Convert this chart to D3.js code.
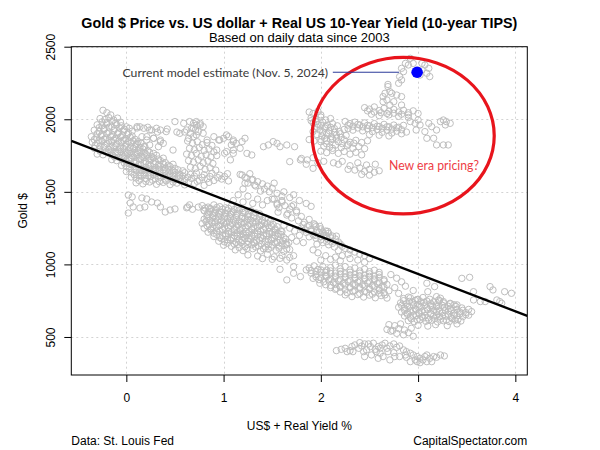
<!DOCTYPE html>
<html><head><meta charset="utf-8">
<script src="https://cdn.jsdelivr.net/npm/d3@7"></script>
<style>body{margin:0;background:#fff}</style>
</head><body><svg id="c" width="600" height="450"></svg>
<script>
// ---------------- DATA ----------------
const titleText = "Gold $ Price vs. US dollar + Real US 10-Year Yield (10-year TIPS)";
const subtitleText = "Based on daily data since 2003";
const xLabel = "US$ + Real Yield %";
const yLabel = "Gold $";
const xTicks = [0, 1, 2, 3, 4];
const yTicks = [500, 1000, 1500, 2000, 2500];
const xDomain = [-0.566, 4.123];
const yDomain = [238, 2500];
const fitIntercept = 1706;
const fitSlope = -257.4;
const currentPoint = [2.99, 2324];
const currentLabel = "Current model estimate (Nov. 5, 2024)";
const eraLabel = "New era pricing?";

const lowBand = [[2.16,406],[2.25,422],[2.27,399],[2.32,434],[2.35,445],[2.39,422],[2.42,438],[2.45,452],[2.47,411],[2.51,434],[2.54,457],[2.56,415],[2.59,434],[2.63,445],[2.66,457],[2.68,422],[2.71,438],[2.75,452],[2.78,429],[2.81,438],[2.85,411],[2.88,399],[2.92,388],[2.95,376],[2.99,365],[3.02,353],[3.05,342],[3.09,330],[3.12,353],[3.16,365],[3.19,360],[3.23,376],[3.27,369],[2.45,365],[2.52,376],[2.59,353],[2.64,365],[2.71,342],[2.81,365],[2.92,330],[3.02,323],[2.61,388],[2.75,392],[2.30,406],[2.44,399],[2.49,452],[2.57,399],[2.69,399],[2.76,365],[2.87,376],[2.97,342],[3.07,365],[3.14,330],[2.21,415],[2.33,399],[2.40,461],[2.61,422],[2.88,360],[2.99,330],[3.09,376]];

const blob700 = [[2.85,765],[2.92,770],[2.99,758],[3.05,772],[3.12,760],[2.82,735],[2.88,728],[2.94,740],[3.0,725],[3.06,738],[3.13,730],[3.19,722],[3.26,735],[3.33,728],[2.8,705],[2.86,698],[2.91,710],[2.97,695],[3.03,708],[3.09,700],[3.15,712],[3.21,697],[3.27,705],[3.33,698],[3.39,710],[3.45,700],[2.83,672],[2.89,665],[2.95,678],[3.01,668],[3.07,675],[3.13,662],[3.19,674],[3.25,666],[3.31,678],[3.37,664],[3.43,672],[3.49,668],[3.55,675],[2.86,645],[2.92,636],[2.98,648],[3.04,640],[3.1,632],[3.16,646],[3.22,638],[3.28,644],[3.34,634],[3.4,646],[3.46,640],[3.52,650],[2.9,612],[2.96,605],[3.02,618],[3.08,608],[3.14,615],[3.2,604],[3.26,612],[3.32,606],[3.38,616],[3.44,610],[2.7,585],[2.76,578],[2.82,590],[3.0,580],[3.1,575],[3.18,585],[3.3,578],[3.4,590],[2.68,552],[2.74,545],[2.8,558],[2.86,548],[2.93,560],[2.72,540],[2.78,525],[2.85,515],[2.9,530],[2.95,505],
[2.85,750],[2.91,745],[2.97,752],[3.03,742],[3.09,748],[3.16,742],[3.22,750],[2.83,718],[2.89,712],[2.95,722],[3.01,710],[3.07,720],[3.13,714],[3.19,708],[3.25,718],[3.31,712],[3.37,722],[2.86,685],[2.92,680],[2.98,690],[3.04,678],[3.1,688],[3.16,682],[3.22,676],[3.28,686],[3.34,680],[3.4,690],[3.46,684],[3.52,690],[2.89,656],[2.95,650],[3.01,660],[3.07,648],[3.13,658],[3.19,652],[3.25,646],[3.31,656],[3.37,650],[3.43,660],[3.49,654],[2.93,625],[2.99,620],[3.05,630],[3.11,618],[3.17,628],[3.23,622],[3.29,616],[3.35,626],[3.41,620]];

const band900 = [[1.58,966],[1.72,985],[1.85,962],[2.06,916],[2.16,835],[1.65,893],[1.79,916],[1.92,904],[1.99,870],[1.72,939],[1.88,975],[1.93,990],[1.97,965],[2.02,985],[2.06,960],[2.1,978],[2.15,995],[2.2,970],[2.25,985],[2.3,962],[2.35,975],[2.4,955],[2.45,968],[2.5,950],[2.55,960],[2.6,945],[1.9,940],[1.95,930],[2.0,945],[2.05,925],[2.1,938],[2.15,920],[2.2,935],[2.25,915],[2.3,928],[2.35,910],[2.4,922],[2.45,905],[2.5,918],[2.55,900],[2.6,912],[2.65,895],[1.98,895],[2.03,880],[2.08,892],[2.13,875],[2.18,888],[2.23,870],[2.28,882],[2.33,865],[2.38,878],[2.43,860],[2.48,872],[2.53,855],[2.58,868],[2.63,850],[2.68,862],[2.1,840],[2.15,828],[2.2,842],[2.25,825],[2.3,838],[2.35,820],[2.4,832],[2.45,815],[2.5,828],[2.55,810],[2.6,822],[2.65,805],[2.7,818],[2.25,790],[2.32,778],[2.38,792],[2.44,775],[2.5,788],[2.56,770],[2.62,785],[2.68,768],[2.72,930],[2.78,905],[2.83,880],[2.87,850],[2.95,820],[2.8,800],[2.9,775],[2.76,840],[3.0,760],
[1.9,958],[1.95,950],[2.0,962],[2.05,945],[2.1,955],[2.15,940],[2.2,952],[2.25,935],[2.3,946],[2.35,930],[2.4,940],[2.45,925],[2.5,935],[2.55,920],[2.6,930],[1.95,915],[2.0,908],[2.05,918],[2.1,902],[2.15,912],[2.2,898],[2.25,908],[2.3,892],[2.35,902],[2.4,888],[2.45,898],[2.5,884],[2.55,892],[2.6,878],[2.65,886],[2.05,860],[2.1,855],[2.15,862],[2.2,850],[2.25,858],[2.3,845],[2.35,855],[2.4,842],[2.45,850],[2.5,838],[2.55,846],[2.6,834],[2.65,842],[2.2,810],[2.27,805],[2.33,812],[2.4,800],[2.47,808],[2.53,795],[2.6,802],[2.66,790]];

const rightTail = [[3.09,870],[3.17,847],[3.23,767],[3.4,721],[3.45,904],[3.53,911],[3.57,812],[3.64,744],[3.74,847],[3.77,824],[3.84,744],[3.89,812],[3.96,801],[3.1,812],[3.19,778],[3.21,755],[3.26,744],[3.33,732],[3.57,755],[3.69,744],[3.81,755],[3.86,732]];

const midLine = [[1.5,1450],[1.55,1420],[1.6,1440],[1.57,1390],[1.63,1405],[1.68,1380],[1.72,1410],[1.66,1350],[1.75,1360],[1.8,1330],[1.7,1320],[1.77,1300],[1.83,1290],[1.88,1310],[1.93,1280],[1.86,1260],[1.8,1250],[1.9,1240],[1.95,1260],[2.0,1245],[2.05,1230],[1.98,1220],[2.03,1200],[2.08,1215],[2.12,1195],[1.92,1205],[1.85,1220],[1.95,1180],[2.0,1170],[2.06,1180],[2.1,1160],[2.15,1175],[2.02,1150],[1.96,1140],[2.08,1135],[2.14,1120],[2.2,1140],[2.25,1110],[2.18,1095],[2.3,1100],[2.35,1085],[2.28,1070],[2.4,1070],[2.45,1060],[2.22,1060],[2.15,1050],[2.05,1060],[2.1,1035],[2.0,1030],[2.2,1025],[2.3,1040],[2.38,1030],[2.45,1015],[2.5,1040],[1.92,1100],[1.97,1080],[1.62,1270],[1.68,1250],[1.73,1230],[1.78,1200],[1.6,1225],[1.7,1185],[1.75,1160],[1.82,1150],[1.65,1140],
[1.82,1275],[1.88,1268],[1.94,1272],[1.99,1262],[1.84,1238],[1.9,1228],[1.96,1232],[2.02,1222],[2.07,1228],[1.88,1190],[1.94,1200],[2.0,1192],[2.05,1200],[2.1,1185],[2.16,1195],[2.06,1158],[2.12,1145],[2.18,1155],[2.22,1125]];

const bigBlob = [[0.78,1405],[0.84,1395],[0.9,1410],[0.96,1398],[1.02,1390],[1.08,1402],[1.14,1385],[0.8,1372],[0.86,1365],[0.92,1378],[0.98,1360],[1.04,1372],[1.1,1362],[1.16,1375],[1.22,1360],[1.28,1370],[0.83,1342],[0.89,1335],[0.95,1348],[1.01,1332],[1.07,1345],[1.13,1338],[1.19,1330],[1.25,1344],[1.31,1335],[1.37,1348],[0.8,1312],[0.86,1305],[0.92,1318],[0.98,1302],[1.04,1315],[1.1,1308],[1.16,1300],[1.22,1314],[1.28,1305],[1.34,1318],[1.4,1302],[1.46,1312],[0.78,1282],[0.85,1275],[0.91,1288],[0.97,1272],[1.03,1285],[1.09,1278],[1.15,1270],[1.21,1284],[1.27,1276],[1.33,1288],[1.39,1272],[1.45,1282],[1.51,1275],[0.8,1250],[0.87,1245],[0.93,1258],[0.99,1242],[1.05,1255],[1.11,1248],[1.17,1240],[1.23,1254],[1.29,1246],[1.35,1258],[1.41,1242],[1.47,1252],[1.53,1245],[0.84,1222],[0.9,1215],[0.96,1228],[1.02,1212],[1.08,1225],[1.14,1218],[1.2,1210],[1.26,1224],[1.32,1216],[1.38,1228],[1.44,1212],[1.5,1222],[1.56,1215],[0.9,1192],[0.96,1185],[1.02,1198],[1.08,1182],[1.14,1195],[1.2,1188],[1.26,1180],[1.32,1194],[1.38,1186],[1.44,1198],[1.5,1182],[1.56,1192],[1.62,1185],[0.95,1160],[1.01,1155],[1.07,1168],[1.13,1152],[1.19,1165],[1.25,1158],[1.31,1150],[1.37,1164],[1.43,1156],[1.49,1168],[1.55,1152],[1.61,1162],[1.0,1132],[1.08,1125],[1.15,1138],[1.22,1122],[1.29,1135],[1.36,1128],[1.43,1120],[1.5,1134],[1.57,1126],[1.64,1138],[1.12,1100],[1.2,1095],[1.3,1108],[1.38,1092],[1.46,1105],[1.54,1098],[1.62,1090],[1.68,1102],[1.25,1065],[1.35,1058],[1.45,1070],[1.52,1052],[1.6,1062],[1.68,1048],[1.72,1060],[1.4,1040],[1.5,1035],[1.58,1042],[1.65,1030],
[0.81,1388],[0.87,1382],[0.93,1392],[0.99,1380],[1.05,1386],[1.11,1378],[1.19,1384],[0.84,1356],[0.9,1350],[0.96,1360],[1.02,1348],[1.08,1356],[1.14,1350],[1.2,1358],[1.26,1352],[1.33,1356],[0.83,1326],[0.89,1320],[0.95,1330],[1.01,1318],[1.07,1328],[1.13,1322],[1.19,1316],[1.25,1328],[1.31,1320],[1.37,1330],[1.43,1322],[0.82,1296],[0.88,1290],[0.94,1300],[1.0,1288],[1.06,1298],[1.12,1292],[1.18,1286],[1.24,1298],[1.3,1290],[1.36,1300],[1.42,1288],[1.48,1296],[0.83,1266],[0.89,1260],[0.95,1270],[1.01,1258],[1.07,1268],[1.13,1262],[1.19,1256],[1.25,1268],[1.31,1260],[1.37,1270],[1.43,1258],[1.49,1266],[1.55,1260],[0.87,1236],[0.93,1230],[0.99,1240],[1.05,1228],[1.11,1238],[1.17,1232],[1.23,1226],[1.29,1238],[1.35,1230],[1.41,1240],[1.47,1228],[1.53,1236],[1.59,1230],[0.93,1206],[0.99,1200],[1.05,1210],[1.11,1198],[1.17,1208],[1.23,1202],[1.29,1196],[1.35,1208],[1.41,1200],[1.47,1210],[1.53,1198],[1.59,1206],[0.98,1176],[1.04,1170],[1.1,1180],[1.16,1168],[1.22,1178],[1.28,1172],[1.34,1166],[1.4,1178],[1.46,1170],[1.52,1180],[1.58,1168],[1.64,1174],[1.04,1146],[1.11,1140],[1.18,1150],[1.25,1138],[1.32,1148],[1.39,1142],[1.46,1136],[1.53,1148],[1.6,1140],[1.67,1150],[1.16,1116],[1.24,1110],[1.33,1120],[1.41,1108],[1.49,1118],[1.57,1112],[1.65,1106]];

const upperMid = [[1.17,1620],[1.22,1600],[1.27,1625],[1.3,1585],[1.35,1570],[1.4,1555],[1.45,1540],[1.5,1525],[1.42,1520],[1.47,1500],[1.38,1505],[1.52,1560],[1.33,1540],[1.25,1560],[1.55,1490],[1.6,1470],[1.2,1520],[1.15,1480],[1.25,1470],[1.35,1450],[1.45,1440],[1.3,1420],[1.4,1410],[1.2,1430],[1.1,1440],[1.55,1410],[1.62,1500],[1.68,1460],[1.72,1480],[1.78,1440],[1.85,1420],[1.9,1400],[1.19,1616],[1.24,1593],[1.29,1582],[1.22,1559],[1.32,1547],[1.52,1450],[1.6,1430],[1.7,1400],[1.56,1360],[1.65,1340],[1.75,1370]];

const leftBand = [[-0.24,2062],[-0.2,2045],[-0.16,2030],[-0.27,2005],[-0.22,1998],[-0.18,2012],[-0.13,1995],[-0.09,2008],[-0.3,1962],[-0.25,1955],[-0.2,1968],[-0.15,1950],[-0.1,1962],[-0.05,1955],[0.0,1948],[-0.33,1925],[-0.28,1915],[-0.23,1928],[-0.18,1912],[-0.13,1922],[-0.08,1910],[-0.03,1920],[0.02,1905],[0.06,1918],[-0.36,1880],[-0.31,1872],[-0.26,1885],[-0.21,1870],[-0.16,1880],[-0.11,1868],[-0.06,1878],[-0.01,1865],[0.04,1875],[0.09,1862],[-0.35,1842],[-0.3,1835],[-0.25,1848],[-0.2,1832],[-0.15,1845],[-0.1,1830],[-0.05,1840],[0.0,1828],[0.05,1838],[0.1,1825],[0.15,1835],[-0.33,1800],[-0.28,1795],[-0.23,1808],[-0.18,1792],[-0.13,1805],[-0.08,1790],[-0.03,1800],[0.02,1788],[0.07,1798],[0.12,1785],[0.17,1795],[0.22,1782],[-0.3,1760],[-0.24,1755],[-0.19,1768],[-0.14,1752],[-0.09,1765],[-0.04,1750],[0.01,1762],[0.06,1748],[0.11,1758],[0.16,1745],[0.21,1755],[0.26,1742],[0.31,1752],[-0.15,1722],[-0.1,1715],[-0.05,1728],[0.0,1712],[0.05,1725],[0.1,1710],[0.15,1720],[0.2,1708],[0.25,1718],[0.3,1705],[0.35,1715],[0.4,1702],[-0.05,1682],[0.0,1675],[0.05,1688],[0.1,1672],[0.15,1685],[0.2,1670],[0.25,1680],[0.3,1668],[0.35,1678],[0.4,1665],[0.45,1675],[0.5,1662],[0.0,1640],[0.05,1635],[0.1,1648],[0.15,1632],[0.2,1645],[0.25,1630],[0.3,1642],[0.35,1628],[0.4,1638],[0.45,1625],[0.5,1635],[0.55,1622],[0.6,1632],[0.66,1620],[0.72,1630],[0.8,1618],[0.88,1628],[0.96,1615],[1.04,1625],[0.05,1602],[0.1,1595],[0.15,1608],[0.2,1592],[0.25,1605],[0.3,1590],[0.35,1600],[0.4,1588],[0.45,1598],[0.5,1585],[0.55,1595],[0.6,1582],[0.67,1592],[0.75,1580],[0.83,1590],[0.9,1578],[0.98,1588],[1.05,1575],[0.1,1562],[0.17,1555],[0.24,1568],[0.31,1552],[0.38,1565],[0.45,1550],[0.52,1560],[0.6,1548],[0.7,1558],[0.8,1545],
[-0.25,1982],[-0.2,1978],[-0.15,1985],[-0.11,1975],[-0.06,1980],[-0.28,1942],[-0.23,1938],[-0.18,1945],[-0.12,1935],[-0.07,1942],[-0.02,1932],[0.03,1938],[-0.3,1900],[-0.25,1895],[-0.2,1902],[-0.14,1892],[-0.09,1898],[-0.04,1888],[0.01,1895],[0.06,1885],[-0.33,1860],[-0.28,1855],[-0.23,1862],[-0.18,1852],[-0.13,1858],[-0.08,1848],[-0.03,1855],[0.02,1845],[0.07,1852],[0.12,1845],[-0.32,1820],[-0.27,1815],[-0.22,1822],[-0.16,1812],[-0.11,1818],[-0.06,1808],[-0.01,1815],[0.04,1805],[0.09,1812],[0.14,1805],[0.19,1812],[-0.27,1780],[-0.21,1775],[-0.16,1782],[-0.11,1772],[-0.06,1778],[-0.01,1770],[0.04,1776],[0.09,1768],[0.14,1775],[0.19,1766],[0.24,1772],[0.28,1765],[-0.12,1740],[-0.07,1735],[-0.02,1742],[0.03,1732],[0.08,1738],[0.13,1730],[0.18,1736],[0.23,1728],[0.28,1734],[0.33,1726],[0.38,1732],[-0.02,1698],[0.03,1692],[0.08,1700],[0.13,1690],[0.18,1696],[0.23,1688],[0.28,1694],[0.33,1686],[0.38,1692],[0.43,1684],[0.48,1690],[0.03,1660],[0.08,1655],[0.13,1662],[0.18,1652],[0.23,1658],[0.28,1650],[0.33,1656],[0.38,1648],[0.43,1655],[0.48,1645],[0.53,1652],[0.58,1645],[0.08,1618],[0.13,1612],[0.18,1620],[0.23,1610],[0.28,1616],[0.33,1608],[0.38,1614],[0.43,1606],[0.48,1612],[0.53,1604],[0.58,1610],[0.63,1602],[0.7,1608],[0.78,1600],[0.86,1606],[0.94,1598],[1.01,1605],[0.13,1578],[0.2,1572],[0.27,1580],[0.34,1570],[0.41,1576],[0.48,1568],[0.56,1574],[0.64,1566],[0.73,1572],[0.85,1565]];

const leftScatter = [[0.02,1478],[0.06,1465],[0.04,1423],[0.07,1396],[0.02,1354],[0.16,1458],[0.21,1451],[0.26,1430],[0.32,1423],[0.35,1396],[0.4,1361],[0.45,1375],[0.5,1382],[0.19,1396],[0.14,1389],[0.63,1396],[0.65,1410],[0.62,1390],[0.68,1380],[0.74,1395],[0.8,1370],[0.86,1385],[0.91,1360],[0.11,1940],[0.14,1948],[0.22,1945],[0.26,1926],[0.32,1912],[0.35,1926],[0.42,1933],[0.52,1912],[0.6,1912],[0.16,1880],[0.21,1857],[0.28,1869],[0.35,1846],[0.24,1823],[0.33,1811],[0.38,1834],[0.69,1972],[0.72,1960],[0.76,1972],[0.67,1938],[0.71,1926],[0.74,1915],[0.66,1903],[0.69,1880],[0.72,1892],[0.79,1949],[0.64,1869],[0.63,1850],[0.68,1835],[0.73,1845],[0.78,1825],[0.83,1840],[0.88,1820],[0.65,1800],[0.7,1790],[0.75,1805],[0.8,1785],[0.85,1795],[0.9,1775],[0.62,1760],[0.67,1750],[0.72,1765],[0.77,1745],[0.82,1755],[0.87,1740],[0.93,1750],[0.64,1715],[0.69,1705],[0.74,1720],[0.79,1700],[0.84,1712],[0.89,1695],[0.66,1670],[0.71,1660],[0.76,1675],[0.81,1655],[0.86,1665],[0.92,1650],[0.5,1984],[0.59,1972],[0.65,1984],[0.72,1984],[0.76,1961],[0.69,1938],[0.62,1926],[0.55,1903],[0.79,1903],[0.83,1857],[0.11,1949],[0.18,1938],[0.24,1926],[0.31,1938],[0.41,1915],[0.21,1880],[0.28,1869],[0.35,1857],[0.11,1834],[0.18,1811],[0.48,1788]];

const midScatter = [[0.95,1857],[1.0,1869],[1.05,1880],[1.1,1857],[1.08,1823],[1.13,1834],[1.19,1846],[1.22,1869],[1.17,1800],[1.03,1777],[1.1,1765],[1.24,1765],[1.29,1754],[0.9,1880],[0.96,1857],[1.03,1892],[1.1,1846],[0.93,1788],[1.01,1766],[1.1,1788],[1.07,1720],[1.41,1811],[1.51,1846],[1.58,1811],[1.73,1811],[1.68,1708],[1.79,1720],[1.92,1662],[1.46,1823],[1.55,1834],[1.65,1823]];

const rightUpper = [[1.88,2050],[1.92,2040],[1.97,2055],[2.0,2030],[1.9,2010],[1.95,2000],[2.0,2015],[2.05,1995],[2.1,2005],[1.92,1975],[1.97,1965],[2.02,1980],[2.07,1960],[2.12,1970],[2.17,1955],[1.94,1935],[1.99,1925],[2.04,1940],[2.09,1920],[2.14,1935],[2.19,1915],[2.24,1930],[1.96,1895],[2.01,1885],[2.06,1900],[2.11,1880],[2.16,1892],[2.21,1875],[2.26,1888],[1.88,1860],[1.93,1850],[2.0,1845],[2.0,1860],[2.06,1850],[2.12,1865],[2.18,1845],[2.24,1858],[2.3,1842],[2.36,1855],[2.42,1840],[2.48,1852],[2.03,1815],[2.09,1808],[2.15,1822],[2.21,1805],[2.27,1818],[2.33,1800],[2.39,1812],[2.45,1798],[2.0,1780],[2.06,1770],[2.12,1785],[2.18,1765],[2.24,1778],[2.3,1760],[2.36,1772],[2.42,1755],[2.13,1700],[2.18,1690],[2.22,1710],[2.3,1680],[2.35,1650],[2.4,1665],[2.45,1640],[2.5,1655],[2.55,1635],[2.6,1645],[2.42,1620],[2.5,1615],[2.38,1700],[2.47,1685],[2.56,1690],[2.28,1655],[1.8,1730],[1.86,1720],[1.92,1735],[1.97,1700],[2.03,1710],[1.85,1690],
[1.9,1990],[1.95,1985],[2.0,1958],[2.05,1950],[2.1,1945],[1.96,1945],[2.02,1912],[2.08,1905],[2.14,1910],[2.2,1900],[1.92,1915],[2.04,1868],[2.1,1860],[2.16,1870],[2.22,1832],[2.28,1828],[2.34,1835],[2.06,1830],[2.12,1800]];

const rightBands = [[2.25,1985],[2.3,1970],[2.35,1980],[2.4,1960],[2.45,1975],[2.5,1955],[2.55,1970],[2.6,1950],[2.65,1965],[2.7,1948],[2.75,1960],[2.8,1945],[2.85,1958],[2.28,1935],[2.33,1925],[2.38,1940],[2.43,1920],[2.48,1935],[2.53,1915],[2.58,1930],[2.63,1910],[2.68,1925],[2.73,1905],[2.78,1918],[2.83,1900],[2.88,1912],[2.5,1895],[2.6,1890],[2.7,1885],[2.45,2080],[2.5,2070],[2.55,2085],[2.6,2060],[2.65,2075],[2.7,2055],[2.75,2068],[2.8,2050],[2.85,2062],[2.9,2045],[2.95,2058],[3.0,2040],[2.52,2035],[2.6,2025],[2.7,2030],[2.8,2020],[2.9,2012],[2.92,1984],[2.97,1972],[3.0,1995],[3.02,1961],[3.11,1972],[3.14,1949],[3.23,1984],[3.26,1995],[3.29,1984],[3.33,1972],[3.28,1961],[3.19,1926],[3.16,1869],[3.09,1869],[3.19,1823],[3.26,1823],[3.31,1823],[3.07,1915],[2.98,1926],
[2.28,1960],[2.33,1952],[2.38,1965],[2.43,1948],[2.48,1958],[2.53,1942],[2.58,1952],[2.63,1938],[2.68,1948],[2.73,1932],[2.78,1942],[2.83,1928],[2.48,2058],[2.55,2050],[2.62,2045],[2.68,2040],[2.75,2042],[2.83,2035],[2.9,2030]];

const topCluster = [[2.92,2420],[2.87,2385],[2.9,2374],[2.95,2385],[3.04,2385],[3.07,2374],[3.11,2351],[3.09,2317],[3.12,2294],[2.83,2351],[2.85,2328],[2.81,2294],[2.83,2271],[2.8,2248],[3.04,2340],[3.02,2305],[2.69,2225],[2.71,2190],[2.66,2179],[2.73,2179],[2.78,2167],[2.83,2156],[2.64,2156],[2.68,2133],[2.64,2121],[2.75,2121],[2.71,2098],[2.83,2098],[2.69,2240]];

// ---------------- DRAW ----------------
const svg = d3.select("#c");
const FONT = "'Liberation Sans', Arial, sans-serif";
const L = 71.3, R = 527.3, T = 46.7, B = 375;
const x = d3.scaleLinear().domain(xDomain).range([L, R]);
const y = d3.scaleLinear().domain(yDomain).range([B, T]);

svg.append("rect").attr("width",600).attr("height",450).attr("fill","#fff");

// grid
const grid = svg.append("g").attr("stroke","#d3d3d3").attr("stroke-width",1).attr("stroke-dasharray","2,3");
grid.selectAll("line.gx").data(xTicks).join("line").attr("class","gx")
  .attr("x1",d=>Math.round(x(d))+0.5).attr("x2",d=>Math.round(x(d))+0.5).attr("y1",T).attr("y2",B);
grid.selectAll("line.gy").data(yTicks).join("line").attr("class","gy")
  .attr("y1",d=>Math.round(y(d))+0.5).attr("y2",d=>Math.round(y(d))+0.5).attr("x1",L).attr("x2",R);

// points
const allPts = [].concat(lowBand, blob700, band900, rightTail, midLine, bigBlob, upperMid, leftBand, leftScatter, midScatter, rightUpper, rightBands, topCluster);
svg.append("g").selectAll("circle").data(allPts).join("circle")
  .attr("cx",d=>x(d[0])).attr("cy",d=>y(d[1])).attr("r",3.2)
  .attr("fill","none").attr("stroke","#bebebe").attr("stroke-width",1);

// regression line
svg.append("defs").append("clipPath").attr("id","clip").append("rect")
  .attr("x",L).attr("y",T).attr("width",R-L).attr("height",B-T);
svg.append("line").attr("clip-path","url(#clip)")
  .attr("x1",x(xDomain[0])).attr("y1",y(fitIntercept+fitSlope*xDomain[0]))
  .attr("x2",x(xDomain[1])).attr("y2",y(fitIntercept+fitSlope*xDomain[1]))
  .attr("stroke","#000").attr("stroke-width",2.4);

// box
svg.append("rect").attr("x",L).attr("y",T).attr("width",R-L).attr("height",B-T)
  .attr("fill","none").attr("stroke","#000").attr("stroke-width",1);

// x axis
const gx = svg.append("g").attr("transform",`translate(0,${B})`)
  .call(d3.axisBottom(x).tickValues(xTicks).tickSize(7).tickPadding(11).tickFormat(d3.format("d")));
gx.select(".domain").remove();
gx.selectAll("text").attr("font-family",FONT).attr("font-size",12).attr("fill","#000");
gx.selectAll("line").attr("stroke","#000");

// y axis
const gy = svg.append("g").attr("transform",`translate(${L},0)`)
  .call(d3.axisLeft(y).tickValues(yTicks).tickSize(7).tickFormat(d3.format("d")));
gy.select(".domain").remove();
gy.selectAll("line").attr("stroke","#000");
gy.selectAll("text").attr("x",null).attr("dy",null).attr("text-anchor","middle")
  .attr("transform","translate(-16.3,0) rotate(-90)")
  .attr("font-family",FONT).attr("font-size",12).attr("fill","#000");

// titles
svg.append("text").attr("x",(L+R)/2).attr("y",27.6).attr("text-anchor","middle")
  .attr("font-family",FONT).attr("font-size",14.3).attr("font-weight","bold").text(titleText);
svg.append("text").attr("x",(L+R)/2).attr("y",42.2).attr("text-anchor","middle")
  .attr("font-family",FONT).attr("font-size",13).text(subtitleText);
svg.append("text").attr("x",(L+R)/2).attr("y",429.5).attr("text-anchor","middle")
  .attr("font-family",FONT).attr("font-size",12).text(xLabel);
svg.append("text").attr("transform",`translate(27,${(T+B)/2}) rotate(-90)`).attr("text-anchor","middle")
  .attr("font-family",FONT).attr("font-size",12).text(yLabel);
svg.append("text").attr("x",L).attr("y",444.7).attr("text-anchor","start")
  .attr("font-family",FONT).attr("font-size",12).text("Data: St. Louis Fed");
svg.append("text").attr("x",R).attr("y",444.7).attr("text-anchor","end")
  .attr("font-family",FONT).attr("font-size",12).text("CapitalSpectator.com");

// annotations
const cx = x(currentPoint[0]), cy = y(currentPoint[1]);
svg.append("ellipse").attr("cx",x(2.847)).attr("cy",y(1887))
  .attr("rx",x(2.847+0.936)-x(2.847)).attr("ry",y(1887-539)-y(1887))
  .attr("fill","none").attr("stroke","#e8141c").attr("stroke-width",3.2);
svg.append("line").attr("x1",cx-84.3).attr("x2",cx-18).attr("y1",cy).attr("y2",cy)
  .attr("stroke","#2b3a9a").attr("stroke-width",1);
svg.append("circle").attr("cx",cx).attr("cy",cy).attr("r",5.8).attr("fill","#0000ff");
svg.append("text").attr("x",cx-89).attr("y",cy+5).attr("text-anchor","end")
  .attr("font-family","Lato, 'Open Sans', sans-serif").attr("font-size",12).attr("fill","#3a3a3a")
  .attr("textLength",205.6).attr("lengthAdjust","spacingAndGlyphs").text(currentLabel);
svg.append("text").attr("x",389).attr("y",170.3).attr("text-anchor","start")
  .attr("font-family","Lato, 'Open Sans', sans-serif").attr("font-size",12.5).attr("fill","#ee3d46")
  .attr("textLength",90).attr("lengthAdjust","spacingAndGlyphs").text(eraLabel);
</script></body></html>
